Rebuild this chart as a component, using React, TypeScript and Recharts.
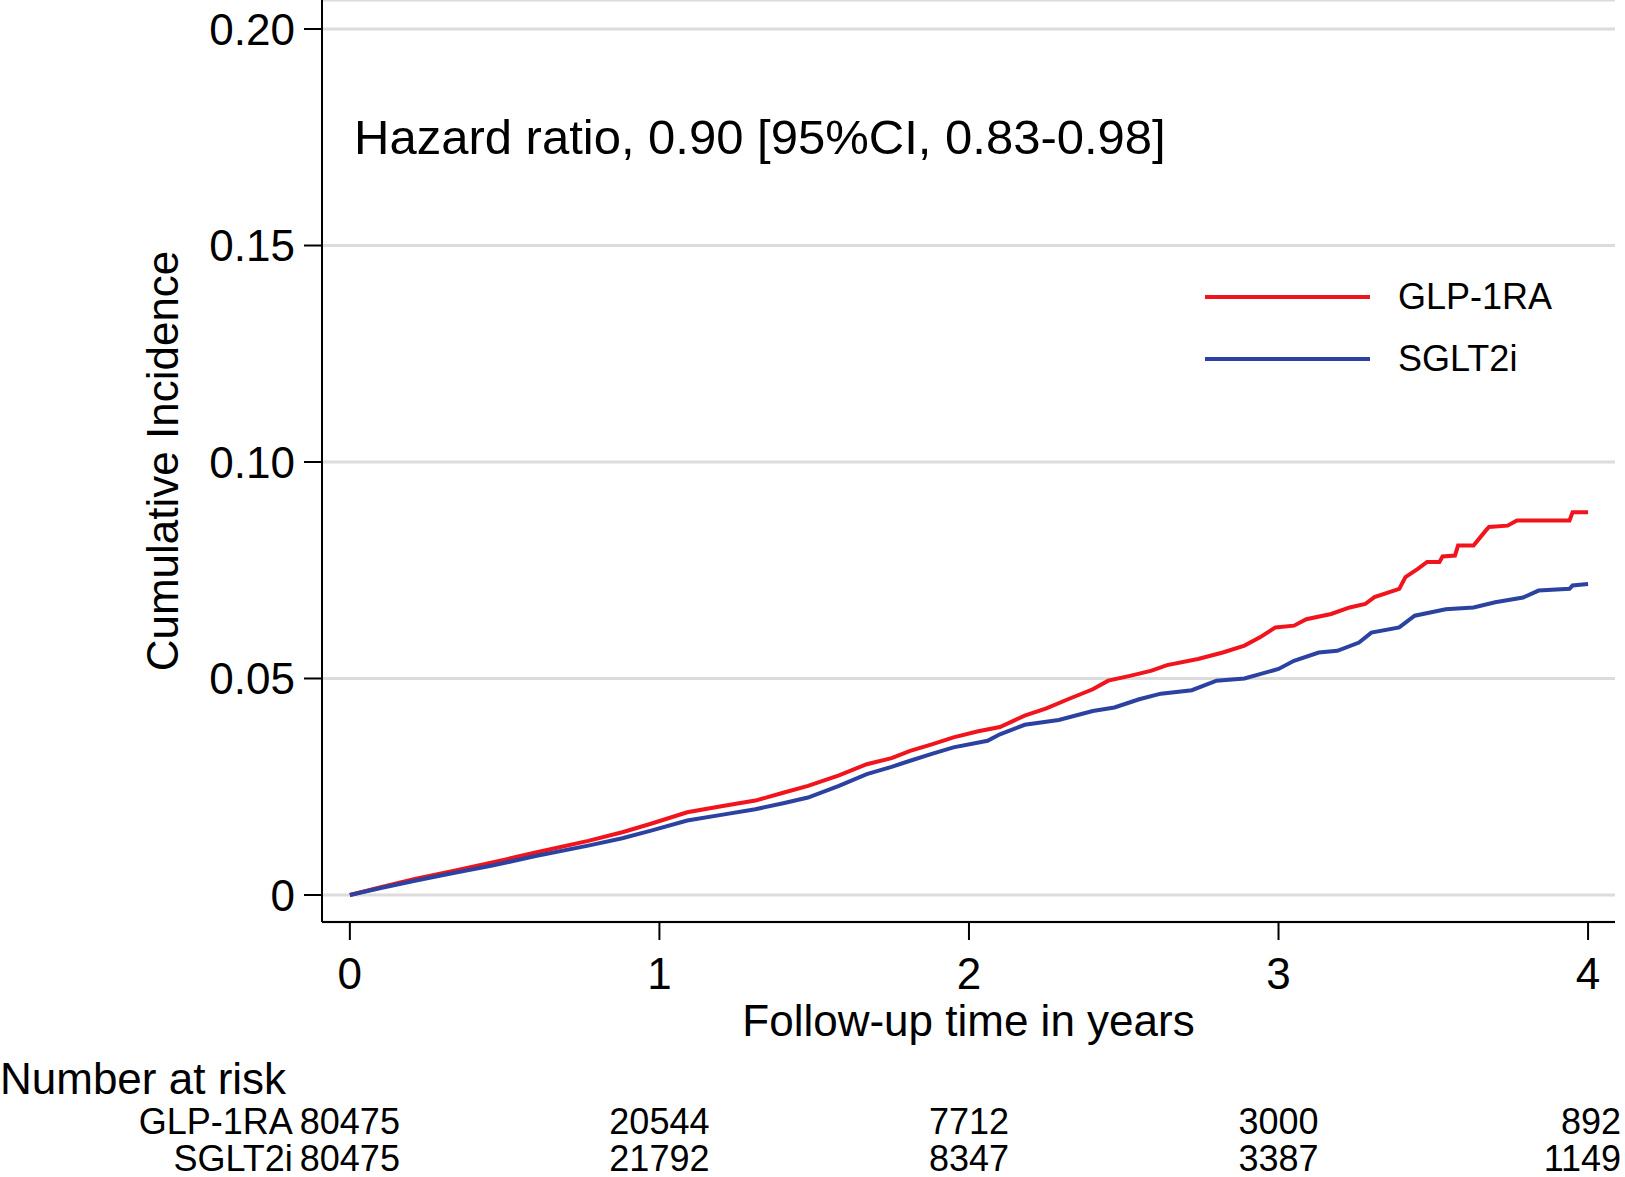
import { CartesianGrid, Legend, Line, LineChart, XAxis, YAxis } from "recharts"

// Cumulative incidence, GLP-1RA arm (years, proportion)
const glpTimes = [
  0, 0.1, 0.21, 0.33, 0.46, 0.6, 0.77, 0.88, 0.97, 1.09, 1.2, 1.31, 1.4, 1.48, 1.58, 1.67, 1.75, 1.81, 1.88,
  1.95, 2.03, 2.1, 2.18, 2.25, 2.32, 2.4, 2.45, 2.52, 2.59, 2.64, 2.74, 2.82, 2.89, 2.94, 2.99, 3.05, 3.09,
  3.17, 3.23, 3.28, 3.31, 3.39, 3.41, 3.45, 3.48, 3.52, 3.53, 3.57, 3.58, 3.63, 3.67, 3.68, 3.74, 3.77, 3.94,
  3.95, 4.0,
]
const glpValues = [
  0, 0.0018, 0.0037, 0.0055, 0.0075, 0.0098, 0.0125, 0.0145, 0.0164, 0.0191, 0.0205, 0.0218, 0.0236, 0.0252,
  0.0276, 0.0302, 0.0316, 0.0333, 0.0348, 0.0364, 0.0378, 0.0388, 0.0414, 0.0431, 0.0452, 0.0475, 0.0495,
  0.0506, 0.0518, 0.0531, 0.0545, 0.056, 0.0576, 0.0595, 0.0618, 0.0622, 0.0637, 0.0649, 0.0664, 0.0672,
  0.0688, 0.0707, 0.0734, 0.0753, 0.0769, 0.0769, 0.0782, 0.0784, 0.0807, 0.0807, 0.0842, 0.085, 0.0853,
  0.0865, 0.0865, 0.0884, 0.0884,
]

// Cumulative incidence, SGLT2i arm
const sgltTimes = [
  0, 0.1, 0.21, 0.33, 0.46, 0.6, 0.77, 0.88, 0.97, 1.09, 1.2, 1.31, 1.4, 1.48, 1.58, 1.67, 1.75, 1.81, 1.88,
  1.95, 2.06, 2.1, 2.18, 2.29, 2.4, 2.47, 2.55, 2.62, 2.72, 2.8, 2.89, 2.94, 3.0, 3.05, 3.13, 3.19, 3.26, 3.3,
  3.39, 3.44, 3.54, 3.63, 3.7, 3.79, 3.84, 3.94, 3.95, 4.0,
]
const sgltValues = [
  0, 0.0016, 0.0033, 0.005, 0.0068, 0.009, 0.0114, 0.0131, 0.0148, 0.0172, 0.0185, 0.0198, 0.0212, 0.0225,
  0.0252, 0.0279, 0.0296, 0.031, 0.0326, 0.0341, 0.0356, 0.0371, 0.0393, 0.0404, 0.0425, 0.0433, 0.0452,
  0.0465, 0.0473, 0.0495, 0.05, 0.051, 0.0522, 0.0541, 0.056, 0.0564, 0.0583, 0.0606, 0.0618, 0.0645, 0.066,
  0.0664, 0.0676, 0.0687, 0.0703, 0.0707, 0.0715, 0.0718,
]

const xTicks = [0, 1, 2, 3, 4]
const yTicks = [0, 0.05, 0.1, 0.15, 0.2]

// Number at risk table
const riskLabels = ["GLP-1RA", "SGLT2i"]
const glpRisk = [80475, 20544, 7712, 3000, 892]
const sgltRisk = [80475, 21792, 8347, 3387, 1149]

const hazardText = "Hazard ratio, 0.90 [95%CI, 0.83-0.98]"

const RED = "#f2141c"
const BLUE = "#2c42a0"
const FONT = "'Liberation Sans', Arial, Helvetica, sans-serif"

const glpData = glpTimes.map((t, i) => ({ t, value: glpValues[i] }))
const sgltData = sgltTimes.map((t, i) => ({ t, value: sgltValues[i] }))

function RiskTick(props: any) {
  const { x, y, index } = props
  // last column sits against the right edge, so right-align it there
  const last = index === xTicks.length - 1
  const nx = last ? x + 33 : x
  const anchor = last ? "end" : "middle"
  return (
    <g fontFamily={FONT} fill="#000">
      {index === 0 && (
        <>
          <text x={0} y={y + 36} fontSize={44} dominantBaseline="central" textAnchor="start">
            Number at risk
          </text>
          <text x={x - 57} y={y + 79} fontSize={36} dominantBaseline="central" textAnchor="end">
            {riskLabels[0]}
          </text>
          <text x={x - 57} y={y + 116} fontSize={36} dominantBaseline="central" textAnchor="end">
            {riskLabels[1]}
          </text>
        </>
      )}
      <text x={nx} y={y + 79} fontSize={36} dominantBaseline="central" textAnchor={anchor}>
        {glpRisk[index]}
      </text>
      <text x={nx} y={y + 116} fontSize={36} dominantBaseline="central" textAnchor={anchor}>
        {sgltRisk[index]}
      </text>
    </g>
  )
}

function renderLegend(props: any) {
  const { payload } = props
  return (
    <div style={{ fontFamily: FONT }}>
      {payload.map((entry: any) => (
        <div key={entry.value} style={{ display: "flex", alignItems: "center", height: 62 }}>
          <span style={{ width: 165, height: 4, background: entry.color, marginRight: 28 }} />
          <span style={{ fontSize: 36, color: "#000" }}>{entry.value}</span>
        </div>
      ))}
    </div>
  )
}

export default function App() {
  return (
    <div style={{ position: "absolute", left: 0, top: 0, width: 1625, height: 1177, background: "#fff" }}>
      <LineChart width={1625} height={1177} margin={{ top: 0, right: 10, bottom: 0, left: 0 }}>
        <CartesianGrid horizontal vertical={false} stroke="#dcdcdc" strokeWidth={3} />
        <XAxis
          xAxisId="main"
          dataKey="t"
          type="number"
          domain={[-0.09, 4.087]}
          ticks={xTicks}
          allowDataOverflow
          height={120}
          tickSize={18}
          tickMargin={18}
          axisLine={{ stroke: "#000", strokeWidth: 2 }}
          tickLine={{ stroke: "#000", strokeWidth: 2 }}
          tick={{ fontSize: 44, fill: "#000", fontFamily: FONT }}
          label={{
            value: "Follow-up time in years",
            position: "insideBottom",
            offset: 6,
            fontSize: 44,
            fill: "#000",
            fontFamily: FONT,
          }}
        />
        <XAxis
          xAxisId="risk"
          dataKey="t"
          type="number"
          domain={[-0.09, 4.087]}
          ticks={xTicks}
          allowDataOverflow
          height={135}
          tickSize={0}
          tickMargin={0}
          axisLine={false}
          tickLine={false}
          tick={<RiskTick />}
        />
        <YAxis
          type="number"
          domain={[-0.00624, 0.2067]}
          ticks={yTicks}
          allowDataOverflow
          width={322}
          tickSize={18}
          tickMargin={9}
          tickFormatter={(v: number) => (v === 0 ? "0" : v.toFixed(2))}
          axisLine={{ stroke: "#000", strokeWidth: 2 }}
          tickLine={{ stroke: "#000", strokeWidth: 2 }}
          tick={{ fontSize: 44, fill: "#000", fontFamily: FONT }}
          label={{
            value: "Cumulative Incidence",
            angle: -90,
            position: "center",
            dx: 1,
            fontSize: 44,
            fill: "#000",
            fontFamily: FONT,
          }}
        />
        <Legend
          layout="vertical"
          align="center"
          verticalAlign="middle"
          content={renderLegend}
          wrapperStyle={{ top: 266, left: 1205, width: 400 }}
        />
        <Line
          xAxisId="main"
          data={glpData}
          dataKey="value"
          name="GLP-1RA"
          type="linear"
          stroke={RED}
          strokeWidth={4}
          dot={false}
          isAnimationActive={false}
        />
        <Line
          xAxisId="main"
          data={sgltData}
          dataKey="value"
          name="SGLT2i"
          type="linear"
          stroke={BLUE}
          strokeWidth={4}
          dot={false}
          isAnimationActive={false}
        />
      </LineChart>
      <div
        style={{
          position: "absolute",
          left: 354,
          top: 108,
          fontFamily: FONT,
          fontSize: 49,
          lineHeight: "58px",
          color: "#000",
          whiteSpace: "nowrap",
        }}
      >
        {hazardText}
      </div>
    </div>
  )
}
